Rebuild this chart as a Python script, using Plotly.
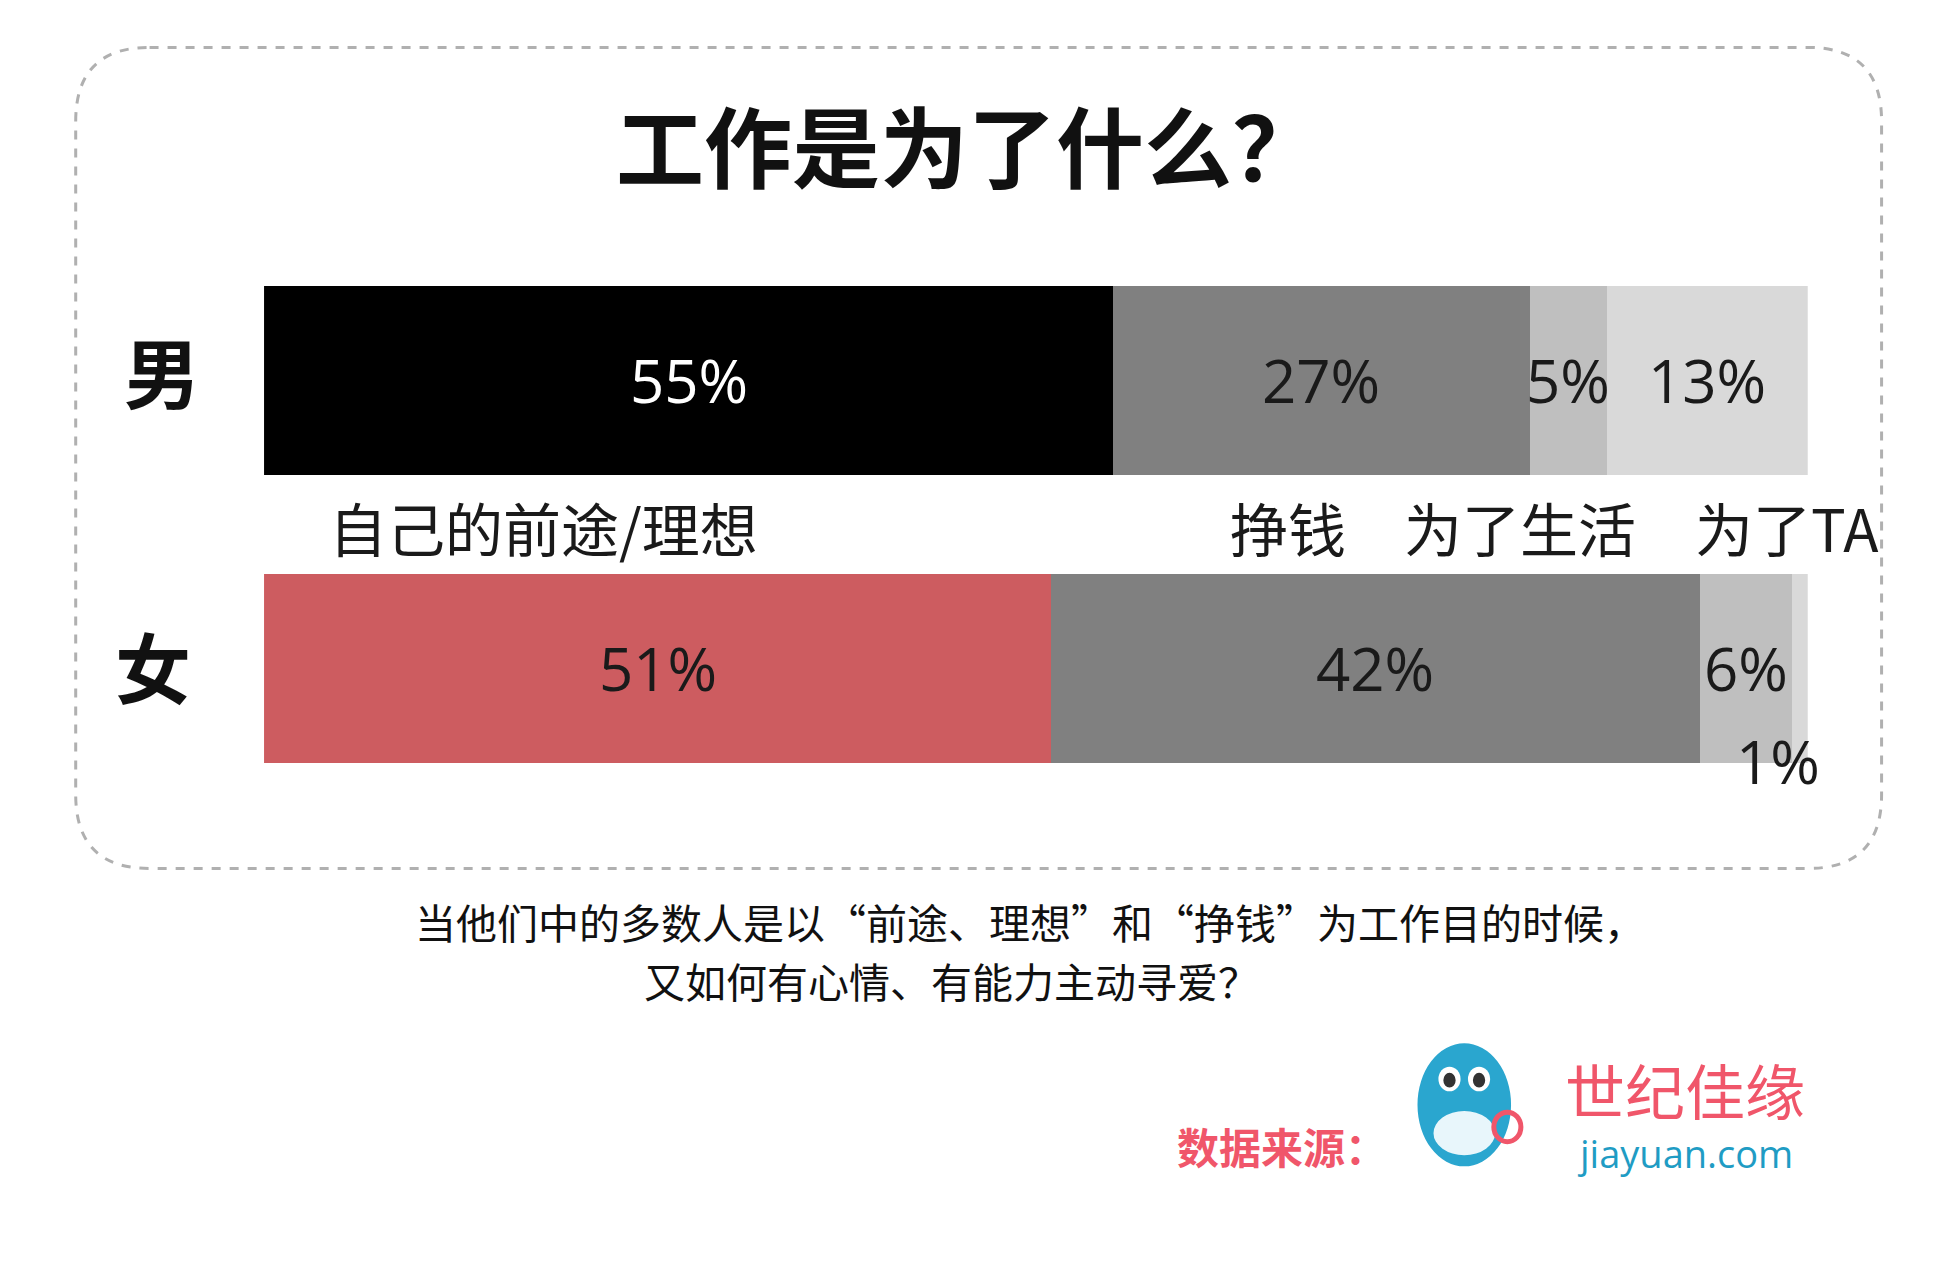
import plotly.graph_objects as go

groups = ["女", "男"]
categories = ["自己的前途/理想", "挣钱", "为了生活", "为了TA"]
male = [55, 27, 5, 13]
female = [51, 42, 6, 1]
male_colors = ["#000000", "#808080", "#bfbfbf", "#d9d9d9"]
female_colors = ["#cd5c60", "#808080", "#bfbfbf", "#d9d9d9"]

W, H = 1936, 1269
K = 1.231
YOFF = -6
CJK = "Noto Sans CJK SC"

def px(x, y):
    return x * K / W, 1 - (y + YOFF) * K / H

male_c, fem_c = (308.5 + YOFF) * K, (542.5 + YOFF) * K
step = fem_c - male_c
bar_w = 154 * K / step

fig = go.Figure()
for i, cat in enumerate(categories):
    fig.add_trace(go.Bar(
        y=[0, 1], x=[female[i], male[i]], orientation="h", name=cat,
        marker=dict(color=[female_colors[i], male_colors[i]], line=dict(width=0)),
        width=bar_w, textposition="none", hoverinfo="skip", showlegend=False))

ann = []
for row, vals in ((1, male), (0, female)):
    cum = 0
    for i, v in enumerate(vals):
        mid = cum + v / 2
        cum += v
        color = "white" if (row == 1 and i == 0) else "#1a1a1a"
        if row == 0 and i == 3:
            X, Y = px(1438, 618)
            ann.append(dict(x=X, y=Y, xref="paper", yref="paper", text=f"{v}%", showarrow=False,
                            font=dict(size=60, color="#1a1a1a", family="Open Sans"), xanchor="center", yanchor="middle"))
        else:
            ann.append(dict(x=mid, y=row, xref="x", yref="y", text=f"{v}%", showarrow=False,
                            font=dict(size=60, color=color, family="Open Sans"), xanchor="center", yanchor="middle"))

cat_x = [435, 1040, 1228, 1445]
for c, x in zip(categories, cat_x):
    X, Y = px(x, 428)
    ann.append(dict(x=X, y=Y, xref="paper", yref="paper", text=c, showarrow=False,
                    font=dict(size=58, color="#1a1a1a", family=CJK), xanchor="center", yanchor="middle"))

for g, x, y in (("男", 125, 300), ("女", 118, 540)):
    X, Y = px(x, y)
    ann.append(dict(x=X, y=Y, xref="paper", yref="paper", text=f"<b>{g}</b>", showarrow=False,
                    font=dict(size=76, color="#111", family=CJK), xanchor="center", yanchor="middle"))

X, Y = px(780, 115)
ann.append(dict(x=X, y=Y, xref="paper", yref="paper", text="<b>工作是为了什么？</b>", showarrow=False,
                font=dict(size=88, color="#111", family=CJK), xanchor="center", yanchor="middle"))

X, Y = px(830, 748)
ann.append(dict(x=X, y=Y, xref="paper", yref="paper", text="当他们中的多数人是以“前途、理想”和“挣钱”为工作目的时候，",
                showarrow=False, font=dict(size=41, color="#111", family=CJK), xanchor="center", yanchor="middle"))
X, Y = px(515, 796)
ann.append(dict(x=X, y=Y, xref="paper", yref="paper", text="又如何有心情、有能力主动寻爱？",
                showarrow=False, font=dict(size=41, color="#111", family=CJK), xanchor="left", yanchor="middle"))

X, Y = px(1035, 930)
ann.append(dict(x=X, y=Y, xref="paper", yref="paper", text="<b>数据来源：</b>", showarrow=False,
                font=dict(size=42, color="#f0566a", family=CJK), xanchor="center", yanchor="middle"))
X, Y = px(1362, 884)
ann.append(dict(x=X, y=Y, xref="paper", yref="paper", text="世纪佳缘", showarrow=False,
                font=dict(size=60, color="#f0566a", family=CJK), xanchor="center", yanchor="middle"))
X, Y = px(1362, 936)
ann.append(dict(x=X, y=Y, xref="paper", yref="paper", text="jiayuan.com", showarrow=False,
                font=dict(size=38, color="#1f9cc4", family="Open Sans"), xanchor="center", yanchor="middle"))

shapes = []
x0, x1, y0, y1, r = 55, 1522, 38, 705, 60
def P(x, y):
    a, b = px(x, y)
    return f"{a:.5f},{b:.5f}"
path = (f"M {P(x0 + r, y0)} L {P(x1 - r, y0)} Q {P(x1, y0)} {P(x1, y0 + r)} "
        f"L {P(x1, y1 - r)} Q {P(x1, y1)} {P(x1 - r, y1)} L {P(x0 + r, y1)} "
        f"Q {P(x0, y1)} {P(x0, y1 - r)} L {P(x0, y0 + r)} Q {P(x0, y0)} {P(x0 + r, y0)} Z")
shapes.append(dict(type="path", path=path, xref="paper", yref="paper",
                   line=dict(color="#b0b0b0", width=3, dash="dash")))

def ell(cx, cy, rx, ry, color, fill=True):
    a, b = px(cx - rx, cy + ry)
    c, d = px(cx + rx, cy - ry)
    s = dict(type="circle", xref="paper", yref="paper", x0=a, y0=b, x1=c, y1=d)
    if fill:
        s.update(fillcolor=color, line=dict(width=0))
    else:
        s.update(line=dict(color=color, width=5))
    shapes.append(s)

ell(1183, 897, 38, 50, "#2aa6cf")
ell(1183, 920, 25, 18, "#e8f6fb")
ell(1171, 876, 9, 10, "white")
ell(1195, 876, 9, 10, "white")
ell(1171, 877, 5, 6, "#333")
ell(1195, 877, 5, 6, "#333")
ell(1218, 915, 11, 12, "#f0566a", fill=False)

fig.update_layout(
    width=W, height=H, margin=dict(l=0, r=0, t=0, b=0),
    paper_bgcolor="white", plot_bgcolor="white", barmode="stack", bargap=0,
    xaxis=dict(range=[0, 100], domain=[208 * K / W, 1462 * K / W], visible=False, fixedrange=True),
    yaxis=dict(range=[-(H - fem_c) / step, 1 + male_c / step], domain=[0, 1], visible=False, fixedrange=True),
    annotations=ann, shapes=shapes,
)
fig.write_html("out.html")
